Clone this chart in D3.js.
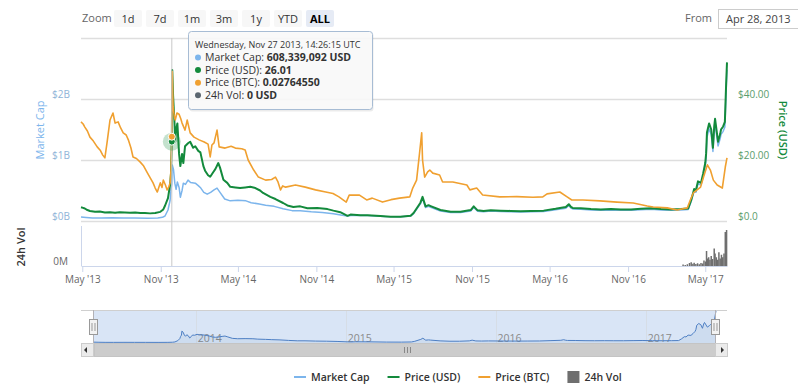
<!DOCTYPE html>
<html><head><meta charset="utf-8">
<script src="https://cdn.jsdelivr.net/npm/d3@7"></script>
<style>
html,body{margin:0;padding:0;background:#fff;}
svg{display:block;font-family:"Open Sans",sans-serif;}
</style></head><body>
<svg id="chart" width="798" height="388"></svg>
<script>
// ---------------- DATA ----------------
const marketCapB = [["2013-04-28",0.066],["2013-05-10",0.058],["2013-05-25",0.050],["2013-06-15",0.049],["2013-07-10",0.052],["2013-08-05",0.050],["2013-09-01",0.049],["2013-10-01",0.047],["2013-10-25",0.050],["2013-11-05",0.060],["2013-11-11",0.082],["2013-11-18",0.18],["2013-11-23",0.34],["2013-11-25",0.51],["2013-11-27",0.608],["2013-11-28",0.92],["2013-12-01",0.84],["2013-12-04",0.62],["2013-12-07",0.52],["2013-12-10",0.64],["2013-12-14",0.55],["2013-12-17",0.39],["2013-12-21",0.50],["2013-12-24",0.62],["2013-12-29",0.60],["2014-01-04",0.67],["2014-01-10",0.63],["2014-01-21",0.62],["2014-01-28",0.58],["2014-02-03",0.54],["2014-02-10",0.47],["2014-02-18",0.44],["2014-02-26",0.47],["2014-03-06",0.51],["2014-03-13",0.54],["2014-03-20",0.47],["2014-03-31",0.36],["2014-04-13",0.33],["2014-05-01",0.34],["2014-05-20",0.33],["2014-06-01",0.30],["2014-06-20",0.28],["2014-07-05",0.26],["2014-07-25",0.24],["2014-08-15",0.20],["2014-09-05",0.17],["2014-09-24",0.17],["2014-10-20",0.15],["2014-11-15",0.14],["2014-12-11",0.12],["2014-12-28",0.10],["2015-01-13",0.08],["2015-01-25",0.095],["2015-03-01",0.09],["2015-04-10",0.072],["2015-05-17",0.068],["2015-06-10",0.080],["2015-06-17",0.12],["2015-07-03",0.28],["2015-07-08",0.37],["2015-07-15",0.22],["2015-07-22",0.24],["2015-07-27",0.225],["2015-08-19",0.165],["2015-09-12",0.138],["2015-10-05",0.138],["2015-10-29",0.165],["2015-11-05",0.22],["2015-11-14",0.16],["2015-11-28",0.152],["2015-12-15",0.162],["2016-01-07",0.157],["2016-01-31",0.152],["2016-02-23",0.148],["2016-03-18",0.152],["2016-04-17",0.157],["2016-05-15",0.185],["2016-06-08",0.21],["2016-06-15",0.255],["2016-06-20",0.212],["2016-06-24",0.198],["2016-07-13",0.194],["2016-08-06",0.18],["2016-08-29",0.175],["2016-09-22",0.18],["2016-10-15",0.175],["2016-11-08",0.175],["2016-12-01",0.185],["2016-12-25",0.194],["2017-01-17",0.18],["2017-02-10",0.175],["2017-03-05",0.18],["2017-03-22",0.19],["2017-03-29",0.32],["2017-04-05",0.49],["2017-04-09",0.47],["2017-04-14",0.61],["2017-04-21",0.59],["2017-04-26",0.73],["2017-05-01",0.90],["2017-05-03",1.04],["2017-05-05",1.37],["2017-05-10",1.51],["2017-05-15",1.42],["2017-05-19",1.14],["2017-05-22",1.47],["2017-05-24",1.59],["2017-05-31",1.23],["2017-06-05",1.35],["2017-06-07",1.42],["2017-06-12",1.47],["2017-06-16",1.54],["2017-06-19",2.14],["2017-06-21",2.48]];

const priceUsd = [["2013-04-28",4.5],["2013-05-03",4.3],["2013-05-07",4.1],["2013-05-13",3.6],["2013-05-19",3.3],["2013-05-31",3.0],["2013-06-11",3.1],["2013-06-23",2.8],["2013-07-05",2.9],["2013-07-17",2.7],["2013-07-28",2.9],["2013-08-09",2.8],["2013-08-21",2.7],["2013-09-02",2.8],["2013-09-14",2.6],["2013-09-25",2.6],["2013-10-07",2.5],["2013-10-19",2.6],["2013-10-31",3.0],["2013-11-07",3.8],["2013-11-11",5.0],["2013-11-18",7.5],["2013-11-23",12.0],["2013-11-25",15.5],["2013-11-27",26.01],["2013-11-28",49.5],["2013-11-30",41],["2013-12-03",33],["2013-12-05",26],["2013-12-07",30],["2013-12-10",32],["2013-12-14",22],["2013-12-17",18],["2013-12-21",22],["2013-12-24",19],["2013-12-28",24.5],["2014-01-04",25.5],["2014-01-09",26],["2014-01-16",24],["2014-01-21",24.5],["2014-01-28",23],["2014-02-02",22.5],["2014-02-09",18],["2014-02-13",16.5],["2014-02-20",15],["2014-02-25",14.5],["2014-03-04",16],["2014-03-09",17],["2014-03-16",19],["2014-03-20",17.5],["2014-03-28",13.5],["2014-04-06",12.5],["2014-04-13",11.2],["2014-04-25",11.0],["2014-05-06",10.8],["2014-05-18",11.0],["2014-05-30",11.2],["2014-06-11",10.8],["2014-06-22",10.0],["2014-06-29",9.2],["2014-07-16",7.9],["2014-07-28",7.2],["2014-08-15",5.9],["2014-08-25",5.1],["2014-09-08",4.6],["2014-09-24",4.8],["2014-10-11",4.2],["2014-11-03",4.3],["2014-11-27",3.9],["2014-12-11",3.4],["2014-12-27",2.9],["2015-01-13",1.7],["2015-01-20",2.1],["2015-02-12",1.9],["2015-03-01",1.9],["2015-03-31",1.6],["2015-04-24",1.4],["2015-05-17",1.4],["2015-06-10",1.7],["2015-06-17",2.6],["2015-07-03",6.0],["2015-07-08",7.9],["2015-07-15",4.8],["2015-07-22",5.2],["2015-07-27",4.9],["2015-08-19",3.6],["2015-09-12",3.0],["2015-10-05",3.0],["2015-10-29",3.6],["2015-11-05",4.8],["2015-11-14",3.5],["2015-11-28",3.3],["2015-12-15",3.5],["2016-01-07",3.4],["2016-01-31",3.3],["2016-02-23",3.2],["2016-03-18",3.3],["2016-04-17",3.4],["2016-05-15",4.0],["2016-06-08",4.6],["2016-06-15",5.5],["2016-06-20",4.6],["2016-06-24",4.3],["2016-07-13",4.2],["2016-08-06",3.9],["2016-08-29",3.8],["2016-09-22",3.9],["2016-10-15",3.8],["2016-11-08",3.8],["2016-12-01",4.0],["2016-12-25",4.2],["2017-01-17",3.9],["2017-02-10",3.8],["2017-03-05",3.9],["2017-03-22",4.1],["2017-03-29",6.9],["2017-04-05",10.5],["2017-04-09",10.0],["2017-04-14",13.0],["2017-04-21",12.5],["2017-04-26",15.5],["2017-05-01",19],["2017-05-03",22],["2017-05-05",29],["2017-05-10",32],["2017-05-15",30],["2017-05-19",24],["2017-05-22",31],["2017-05-24",33.5],["2017-05-31",26],["2017-06-05",28.5],["2017-06-07",30],["2017-06-12",31],["2017-06-16",32.5],["2017-06-19",45],["2017-06-21",52]];

const priceBtc = [["2013-04-28",0.0325],["2013-05-03",0.0318],["2013-05-07",0.0308],["2013-05-13",0.0295],["2013-05-19",0.0275],["2013-05-27",0.0262],["2013-06-05",0.0243],["2013-06-12",0.0232],["2013-06-18",0.0216],["2013-06-23",0.0207],["2013-06-28",0.0256],["2013-07-05",0.0331],["2013-07-12",0.0354],["2013-07-17",0.0321],["2013-07-24",0.0325],["2013-07-30",0.0305],["2013-08-05",0.0289],["2013-08-12",0.0282],["2013-08-17",0.0266],["2013-08-23",0.0240],["2013-08-28",0.0210],["2013-09-05",0.0205],["2013-09-14",0.0193],["2013-09-22",0.0180],["2013-10-01",0.0157],["2013-10-08",0.0140],["2013-10-14",0.0125],["2013-10-19",0.0108],["2013-10-24",0.0095],["2013-10-28",0.0112],["2013-10-31",0.0125],["2013-11-04",0.0110],["2013-11-07",0.0134],["2013-11-12",0.0118],["2013-11-16",0.0102],["2013-11-20",0.0112],["2013-11-23",0.0125],["2013-11-25",0.0167],["2013-11-27",0.0276455],["2013-11-28",0.0490],["2013-11-30",0.0374],["2013-12-03",0.0341],["2013-12-05",0.0331],["2013-12-09",0.0354],["2013-12-14",0.0350],["2013-12-18",0.0335],["2013-12-21",0.0321],["2013-12-28",0.0298],["2014-01-02",0.0331],["2014-01-09",0.0289],["2014-01-18",0.0275],["2014-01-30",0.0266],["2014-02-11",0.0259],["2014-02-20",0.0252],["2014-02-25",0.0210],["2014-03-01",0.0249],["2014-03-06",0.0256],["2014-03-13",0.0298],["2014-03-18",0.0243],["2014-04-01",0.0239],["2014-04-15",0.0245],["2014-04-25",0.0239],["2014-05-10",0.0237],["2014-05-18",0.0233],["2014-05-25",0.0200],["2014-06-07",0.0167],["2014-06-18",0.0144],["2014-07-05",0.0134],["2014-07-19",0.0136],["2014-07-28",0.0144],["2014-08-03",0.0128],["2014-08-09",0.0102],["2014-08-14",0.0115],["2014-08-21",0.0111],["2014-09-13",0.0118],["2014-10-06",0.0111],["2014-10-30",0.0102],["2014-11-23",0.0095],["2014-12-10",0.0090],["2014-12-24",0.0079],["2015-01-10",0.0062],["2015-01-17",0.0085],["2015-02-10",0.0085],["2015-02-27",0.0069],["2015-03-12",0.0075],["2015-04-05",0.0062],["2015-04-25",0.0070],["2015-05-15",0.0075],["2015-06-08",0.0079],["2015-06-15",0.0108],["2015-06-24",0.0134],["2015-07-01",0.0223],["2015-07-06",0.0289],["2015-07-08",0.0200],["2015-07-13",0.0144],["2015-07-20",0.0161],["2015-07-25",0.0167],["2015-08-01",0.0157],["2015-08-17",0.0151],["2015-08-24",0.0128],["2015-09-17",0.0128],["2015-10-20",0.0118],["2015-10-27",0.0102],["2015-11-12",0.0108],["2015-11-26",0.0085],["2016-01-05",0.0079],["2016-02-14",0.0080],["2016-03-23",0.0078],["2016-04-15",0.0079],["2016-04-25",0.0089],["2016-05-25",0.0095],["2016-06-11",0.0079],["2016-06-22",0.0069],["2016-07-18",0.0069],["2016-08-27",0.0066],["2016-10-06",0.0062],["2016-11-13",0.0059],["2016-12-16",0.0049],["2016-12-30",0.0046],["2017-02-01",0.0043],["2017-02-24",0.0036],["2017-03-20",0.0043],["2017-03-27",0.0069],["2017-04-03",0.0092],["2017-04-20",0.0111],["2017-04-27",0.0144],["2017-05-06",0.0184],["2017-05-13",0.0167],["2017-05-20",0.0134],["2017-05-29",0.0118],["2017-06-10",0.0108],["2017-06-17",0.0177],["2017-06-21",0.0207]];

const volumeM = [["2017-03-10",60],["2017-03-15",40],["2017-03-20",70],["2017-03-25",120],["2017-03-29",150],["2017-04-02",90],["2017-04-05",130],["2017-04-09",80],["2017-04-13",110],["2017-04-17",70],["2017-04-21",120],["2017-04-25",100],["2017-04-28",220],["2017-05-02",180],["2017-05-04",600],["2017-05-06",300],["2017-05-09",350],["2017-05-12",250],["2017-05-15",400],["2017-05-18",280],["2017-05-22",700],["2017-05-24",500],["2017-05-27",350],["2017-05-30",250],["2017-06-02",550],["2017-06-05",300],["2017-06-08",450],["2017-06-11",350],["2017-06-14",500],["2017-06-17",1360],["2017-06-20",1440]];

const xTickDates = ["2013-05-01","2013-11-01","2014-05-01","2014-11-01","2015-05-01","2015-11-01","2016-05-01","2016-11-01","2017-05-01"];
const xTickLabels = ["May '13","Nov '13","May '14","Nov '14","May '15","Nov '15","May '16","Nov '16","May '17"];
const capTicks = [0,1,2];
const capTickLabels = ["$0B","$1B","$2B"];
const usdTicks = [0,20,40];
const usdTickLabels = ["$0.0","$20.00","$40.00"];
const usdGrid = [0,20,40,60];
const navYearDates = ["2014-01-01","2015-01-01","2016-01-01","2017-01-01"];
const navYearLabels = ["2014","2015","2016","2017"];
const zoomButtons = ["1d","7d","1m","3m","1y","YTD","ALL"];
const legendItems = ["Market Cap","Price (USD)","Price (BTC)","24h Vol"];
const tooltipDate = "2013-11-27";
const tooltipHeader = "Wednesday, Nov 27 2013, 14:26:15 UTC";
const tooltipLabels = ["Market Cap: ","Price (USD): ","Price (BTC): ","24h Vol: "];
const tooltipValues = ["608,339,092 USD","26.01","0.02764550","0 USD"];

// ---------------- SETUP ----------------
const C = {cap:"#7cb5ec", usd:"#138a3c", btc:"#f0a030", vol:"#6f6f6f", grid:"#dedede", axis:"#ccd6eb"};
const parse = d3.utcParse("%Y-%m-%d");
const svg = d3.select("#chart");
const conv = arr => arr.map(d => [parse(d[0]), d[1]]);
const capD = conv(marketCapB), usdD = conv(priceUsd), btcD = conv(priceBtc), volD = conv(volumeM);
const domainX = [parse("2013-04-28"), parse("2017-06-21")];

const x = d3.scaleUtc().domain(domainX).range([81, 727]);
const yUsd = d3.scaleLinear().domain([0, 60]).range([221, 38]);
const yCap = d3.scaleLinear().domain([0, 3]).range([221, 38]);
const yBtc = d3.scaleLinear().domain([0, 0.06]).range([221, 38]);
const yVol = d3.scaleLinear().domain([0, 1600]).range([266, 226]);
const xNav = d3.scaleUtc().domain(domainX).range([94, 716]);
const yNav = d3.scaleLinear().domain([0, d3.max(capD, d => d[1])]).range([343, 311]);

// ---------------- RANGE SELECTOR ----------------
svg.append("text").attr("x", 82).attr("y", 22).attr("font-size", 11).attr("fill", "#666").text("Zoom");
const btn = svg.append("g").selectAll("g").data(zoomButtons).join("g")
  .attr("transform", (d, i) => `translate(${114 + i * 32},10)`);
btn.append("rect").attr("width", 28).attr("height", 17).attr("rx", 2)
  .attr("fill", d => d === "ALL" ? "#e6ebf5" : "#f7f7f7");
btn.append("text").attr("x", 14).attr("y", 12.5).attr("text-anchor", "middle").attr("font-size", 11)
  .attr("font-weight", d => d === "ALL" ? 700 : 400).attr("fill", d => d === "ALL" ? "#000" : "#333").text(d => d);
svg.append("text").attr("x", 712).attr("y", 22).attr("text-anchor", "end").attr("font-size", 11).attr("fill", "#666").text("From");
svg.append("rect").attr("x", 718.5).attr("y", 9.5).attr("width", 80).attr("height", 19).attr("fill", "#fff").attr("stroke", "#cccccc");
svg.append("text").attr("x", 726).attr("y", 23).attr("font-size", 11).attr("fill", "#444").text("Apr 28, 2013");

// ---------------- GRID ----------------
svg.append("g").selectAll("line").data(usdGrid).join("line")
  .attr("x1", 81).attr("x2", 727).attr("y1", d => Math.round(yUsd(d)) + 0.5).attr("y2", d => Math.round(yUsd(d)) + 0.5)
  .attr("stroke", C.grid).attr("stroke-width", 1.3);
svg.append("line").attr("x1", 81.5).attr("x2", 81.5).attr("y1", 226).attr("y2", 266).attr("stroke", C.axis);

// ---------------- AXES ----------------
function styleAxis(g, color, dy) {
  g.select(".domain").remove();
  g.selectAll("text").attr("fill", color).attr("font-size", 10).attr("font-family", "Open Sans").attr("dy", dy);
}
svg.append("g").attr("transform", "translate(81,0)")
  .call(d3.axisLeft(yCap).tickValues(capTicks).tickFormat((d, i) => capTickLabels[i]).tickSize(0).tickPadding(11))
  .call(g => styleAxis(g, "#8fb4d8", "-0.2em"));
svg.append("g").attr("transform", "translate(727,0)")
  .call(d3.axisRight(yUsd).tickValues(usdTicks).tickFormat((d, i) => usdTickLabels[i]).tickSize(0).tickPadding(11))
  .call(g => styleAxis(g, "#5a9c6c", "-0.2em"));
svg.append("g").attr("transform", "translate(81,0)")
  .call(d3.axisLeft(yVol).tickValues([0]).tickFormat(() => "0M").tickSize(0).tickPadding(13))
  .call(g => styleAxis(g, "#666", "-0.2em"));
const xa = svg.append("g").attr("transform", "translate(0,266)")
  .call(d3.axisBottom(x).tickValues(xTickDates.map(parse)).tickFormat((d, i) => xTickLabels[i]).tickSize(6).tickSizeOuter(0).tickPadding(4));
xa.select(".domain").attr("stroke", C.axis);
xa.selectAll(".tick line").attr("stroke", C.axis);
xa.selectAll("text").attr("fill", "#666").attr("font-size", 10).attr("font-family", "Open Sans");

// titles
svg.append("text").attr("transform", "translate(44,130) rotate(-90)").attr("text-anchor", "middle")
  .attr("font-size", 11).attr("fill", C.cap).text("Market Cap");
svg.append("text").attr("transform", "translate(25,247) rotate(-90)").attr("text-anchor", "middle")
  .attr("font-size", 11).attr("font-weight", 600).attr("fill", "#333").text("24h Vol");
svg.append("text").attr("transform", "translate(779,130) rotate(90)").attr("text-anchor", "middle")
  .attr("font-size", 11).attr("font-weight", 600).attr("fill", C.usd).text("Price (USD)");

// ---------------- SERIES ----------------
svg.append("g").selectAll("rect").data(volD).join("rect")
  .attr("x", d => x(d[0]) - 0.75).attr("width", 1.5)
  .attr("y", d => yVol(d[1])).attr("height", d => 266 - yVol(d[1])).attr("fill", C.vol);

const mk = ys => d3.line().x(d => x(d[0])).y(d => ys(d[1]));
svg.append("path").datum(capD).attr("d", mk(yCap)).attr("fill", "none").attr("stroke", C.cap).attr("stroke-width", 1.5).attr("stroke-linejoin", "round");
svg.append("path").datum(usdD).attr("d", mk(yUsd)).attr("fill", "none").attr("stroke", C.usd).attr("stroke-width", 2).attr("stroke-linejoin", "round");
svg.append("path").datum(btcD).attr("d", mk(yBtc)).attr("fill", "none").attr("stroke", C.btc).attr("stroke-width", 1.6).attr("stroke-linejoin", "round");

// crosshair + hover markers
const tx = x(parse(tooltipDate));
svg.append("line").attr("x1", tx).attr("x2", tx).attr("y1", 38).attr("y2", 266).attr("stroke", "#c8c8c8").attr("stroke-width", 1);
const pUsd = usdD.find(d => +d[0] === +parse(tooltipDate));
const pBtc = btcD.find(d => +d[0] === +parse(tooltipDate));
svg.append("circle").attr("cx", tx).attr("cy", yUsd(pUsd[1])).attr("r", 9).attr("fill", C.usd).attr("opacity", 0.25);
svg.append("circle").attr("cx", tx).attr("cy", yUsd(pUsd[1])).attr("r", 3.5).attr("fill", C.usd).attr("stroke", "#fff");
svg.append("circle").attr("cx", tx).attr("cy", yBtc(pBtc[1])).attr("r", 3.5).attr("fill", C.btc).attr("stroke", "#fff");

// ---------------- TOOLTIP ----------------
const tt = svg.append("g").attr("transform", "translate(188,31)");
tt.append("rect").attr("x", 1.5).attr("y", 1.5).attr("width", 184).attr("height", 79).attr("rx", 3).attr("fill", "rgba(0,0,0,0.08)");
tt.append("rect").attr("x", 0.5).attr("y", 0.5).attr("width", 184).attr("height", 78).attr("rx", 3)
  .attr("fill", "rgba(250,250,250,0.92)").attr("stroke", "#a7bcd4");
tt.append("text").attr("x", 7).attr("y", 17).attr("font-size", 9).attr("fill", "#333").text(tooltipHeader);
const dotColors = [C.cap, C.usd, C.btc, "#5b6670"];
tooltipLabels.forEach((l, i) => {
  const yy = 30 + i * 12.6;
  tt.append("circle").attr("cx", 10).attr("cy", yy - 3.5).attr("r", 3).attr("fill", dotColors[i]);
  const t = tt.append("text").attr("x", 17).attr("y", yy).attr("font-size", 10.5).attr("fill", "#333");
  t.append("tspan").text(l);
  t.append("tspan").attr("font-weight", 700).text(tooltipValues[i]);
});

// ---------------- NAVIGATOR ----------------
svg.append("rect").attr("x", 81).attr("y", 310).attr("width", 646).attr("height", 33).attr("fill", "#fff");
svg.append("rect").attr("x", 94).attr("y", 310).attr("width", 622).attr("height", 33).attr("fill", "rgba(102,153,221,0.25)");
svg.append("g").selectAll("line").data(navYearDates.map(parse)).join("line")
  .attr("x1", d => Math.round(xNav(d)) + 0.5).attr("x2", d => Math.round(xNav(d)) + 0.5).attr("y1", 310).attr("y2", 343)
  .attr("stroke", "#d6dde6");
svg.append("g").selectAll("text").data(navYearDates.map(parse)).join("text")
  .attr("x", d => xNav(d) + 2).attr("y", 342).attr("font-size", 10.5).attr("fill", "#8a8a8a")
  .text((d, i) => navYearLabels[i]);
svg.append("path").datum(capD).attr("d", d3.area().x(d => xNav(d[0])).y0(343).y1(d => yNav(d[1])))
  .attr("fill", "rgba(69,114,167,0.08)");
svg.append("path").datum(capD).attr("d", d3.line().x(d => xNav(d[0])).y(d => yNav(d[1])))
  .attr("fill", "none").attr("stroke", "#4d7fc4").attr("stroke-width", 1);
svg.append("line").attr("x1", 81).attr("x2", 727).attr("y1", 310.5).attr("y2", 310.5).attr("stroke", "#cfcfcf");
[94, 716].forEach(hx => {
  const h = svg.append("g").attr("transform", `translate(${hx - 0.5},0)`);
  h.append("line").attr("x1", 0).attr("x2", 0).attr("y1", 310).attr("y2", 343).attr("stroke", "#b2b1b6");
  h.append("rect").attr("x", -4).attr("y", 319.5).attr("width", 8).attr("height", 15).attr("fill", "#f2f2f2").attr("stroke", "#999");
  h.append("line").attr("x1", -1.5).attr("x2", -1.5).attr("y1", 323).attr("y2", 331).attr("stroke", "#999");
  h.append("line").attr("x1", 1.5).attr("x2", 1.5).attr("y1", 323).attr("y2", 331).attr("stroke", "#999");
});
// scrollbar
svg.append("rect").attr("x", 81.5).attr("y", 343.5).attr("width", 645).attr("height", 13).attr("fill", "#f2f2f2").attr("stroke", "#e0e0e0");
svg.append("rect").attr("x", 94.5).attr("y", 343.5).attr("width", 621).attr("height", 13).attr("fill", "#cccccc").attr("stroke", "#c4c4c4");
[405, 408, 411].forEach(gx => svg.append("line").attr("x1", gx - 0.5).attr("x2", gx - 0.5).attr("y1", 347).attr("y2", 353).attr("stroke", "#888"));
[[81.5, "M87,347 L84,350 L87,353 Z"], [715.5, "M721,347 L724,350 L721,353 Z"]].forEach(([bx, p]) => {
  svg.append("rect").attr("x", bx).attr("y", 343.5).attr("width", 12).attr("height", 13).attr("fill", "#ebebeb").attr("stroke", "#cccccc");
  svg.append("path").attr("d", p).attr("fill", "#333");
});

// ---------------- LEGEND ----------------
const legColors = [C.cap, C.usd, C.btc, C.vol];
let lx = 294;
legendItems.forEach((name, i) => {
  if (i < 3) svg.append("line").attr("x1", lx).attr("x2", lx + 12).attr("y1", 377).attr("y2", 377).attr("stroke", legColors[i]).attr("stroke-width", 2);
  else svg.append("rect").attr("x", lx).attr("y", 371).attr("width", 12).attr("height", 12).attr("fill", legColors[i]);
  const t = svg.append("text").attr("x", lx + 17).attr("y", 381).attr("font-size", 10.5).attr("font-weight", 600).attr("fill", "#333").text(name);
  lx += 17 + t.node().getComputedTextLength() + 18;
});
</script>
</body></html>
